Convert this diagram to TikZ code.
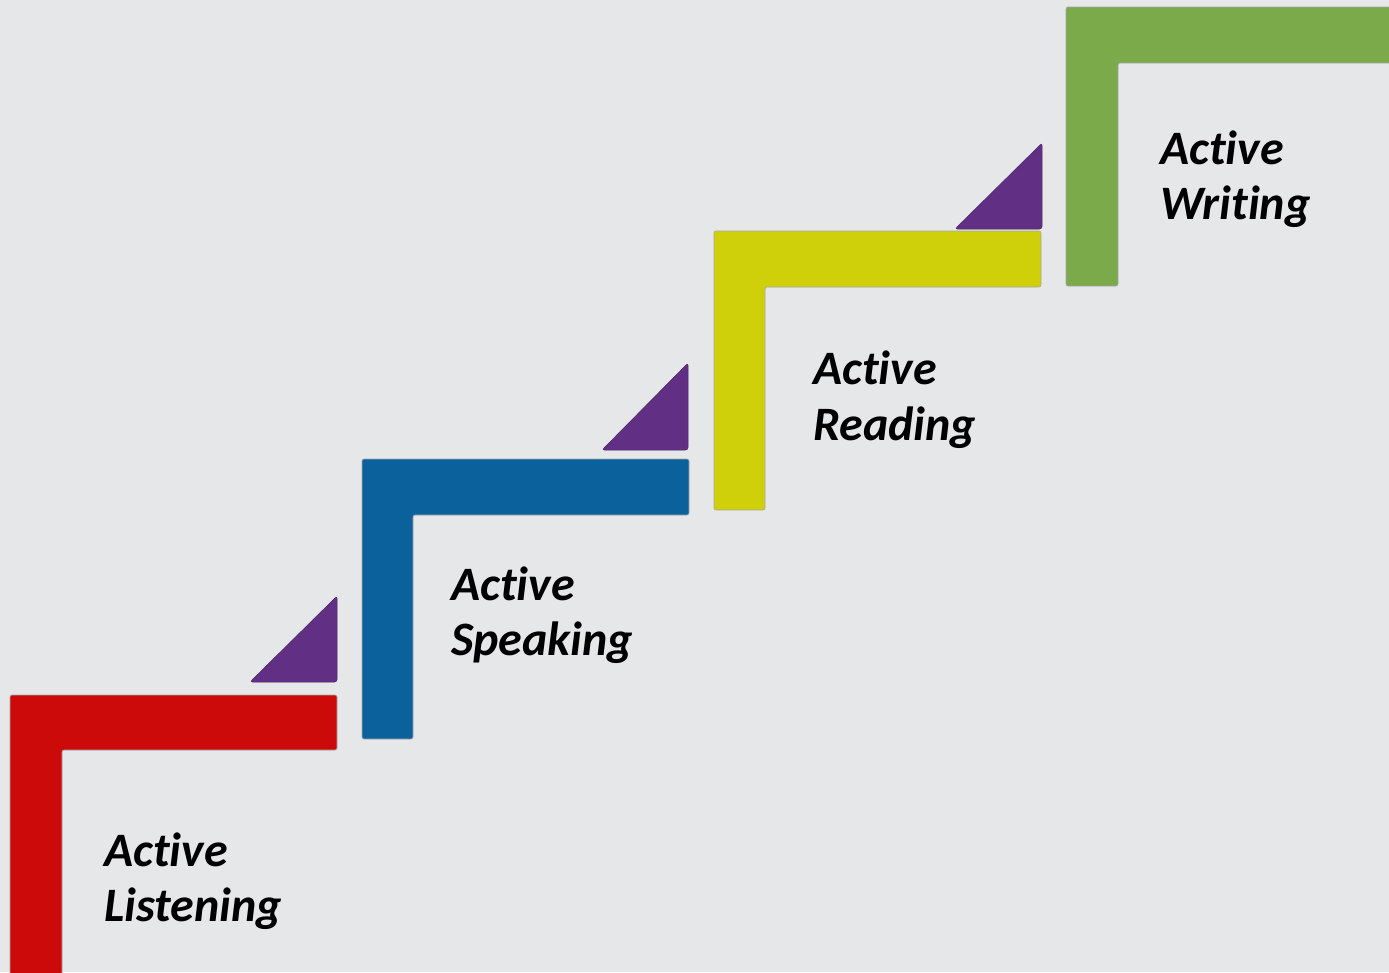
\documentclass[tikz,border=0pt]{standalone}
\usepackage{fontspec}
\setmainfont[Ligatures={NoCommon}]{Carlito}
\definecolor{bg}{HTML}{E6E7E9}
\definecolor{cred}{HTML}{CC0A0A}
\definecolor{cblue}{HTML}{0B619C}
\definecolor{cyellow}{HTML}{D0D00A}
\definecolor{cgreen}{HTML}{7BAA4A}
\definecolor{cpurple}{HTML}{612F84}
\tikzset{
  stair/.style={draw=black!35, line width=0.6pt, rounded corners=2pt},
  wedge/.style={fill=cpurple, draw=cpurple!80!black, line width=0.5pt, rounded corners=2.5pt},
  lbl/.style={anchor=base west, inner sep=0pt, font=\fontsize{48}{56}\selectfont\bfseries\itshape, text=black}
}
\begin{document}
\begin{tikzpicture}[x=1pt,y=-1pt]
\fill[bg] (0,0) rectangle (1389,972);
\useasboundingbox (0,0) rectangle (1389,972);
% red
\path[stair, fill=cred] (10,980) -- (10,695) -- (337,695) -- (337,750) -- (62,750) -- (62,980) -- cycle;
% blue
\path[stair, fill=cblue] (362,739) -- (362,459) -- (689,459) -- (689,515) -- (413,515) -- (413,739) -- cycle;
% yellow
\path[stair, fill=cyellow] (714,510) -- (714,231) -- (1041,231) -- (1041,287) -- (765,287) -- (765,510) -- cycle;
% green
\path[stair, fill=cgreen] (1066,286) -- (1066,7) -- (1400,7) -- (1400,63) -- (1118,63) -- (1118,286) -- cycle;
% triangles
\path[wedge] (250,682) -- (337,682) -- (337,596) -- cycle;
\path[wedge] (602,450) -- (688,450) -- (688,363) -- cycle;
\path[wedge] (955,229) -- (1042,229) -- (1042,143) -- cycle;
% labels
\node[lbl] (l1a) at (104,866) {Active};
\node[lbl] (l1b) at (104,921) {Listening};
\node[lbl] (l2a) at (451,600) {Active};
\node[lbl] (l2b) at (451,655) {Speaking};
\node[lbl] (l3a) at (813,384) {Active};
\node[lbl] (l3b) at (813,440) {Reading};
\node[lbl] (l4a) at (1160,164) {Active};
\node[lbl] (l4b) at (1160,219) {Writing};
\end{tikzpicture}
\end{document}
